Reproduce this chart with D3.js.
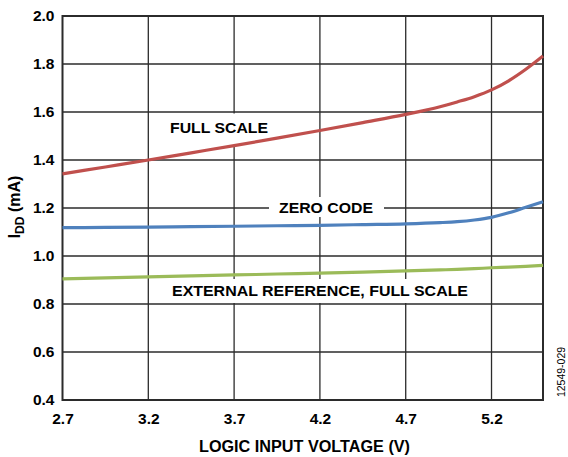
<!DOCTYPE html>
<html>
<head>
<meta charset="utf-8">
<script src="https://cdn.jsdelivr.net/npm/d3@7"></script>
<style>
  html, body { margin: 0; padding: 0; background: #fff; }
  svg { display: block; font-family: Arial, "Liberation Sans", sans-serif; }
</style>
</head>
<body>
<svg id="chart" width="568" height="457"></svg>
<script>
const xTicks = [2.7, 3.2, 3.7, 4.2, 4.7, 5.2];
const yTicks = [0.4, 0.6, 0.8, 1.0, 1.2, 1.4, 1.6, 1.8, 2.0];
const voltage = [2.7, 2.95, 3.2, 3.45, 3.7, 3.95, 4.2, 4.45, 4.7, 4.9, 5.0, 5.1, 5.2, 5.3, 5.4, 5.5];
const fullScale = [1.342, 1.371, 1.400, 1.430, 1.460, 1.491, 1.523, 1.556, 1.590, 1.622, 1.642, 1.664, 1.692, 1.730, 1.778, 1.833];
const zeroCode = [1.118, 1.119, 1.120, 1.122, 1.124, 1.126, 1.128, 1.131, 1.134, 1.139, 1.143, 1.150, 1.161, 1.180, 1.203, 1.226];
const extRef = [0.905, 0.909, 0.913, 0.917, 0.921, 0.925, 0.929, 0.933, 0.938, 0.942, 0.944, 0.947, 0.951, 0.954, 0.957, 0.961];
const seriesNames = ["FULL SCALE", "ZERO CODE", "EXTERNAL REFERENCE, FULL SCALE"];
const seriesColors = ["#c0504d", "#4f81bd", "#9bbb59"];

const svg = d3.select("#chart");
const L = 62.5, R = 543, T = 16, B = 400;
const x = d3.scaleLinear().domain([2.7, 5.5]).range([L, R]);
const y = d3.scaleLinear().domain([0.4, 2.0]).range([B, T]);
const gridColor = "#2b2b2b";
const FONT = "Arial, 'Liberation Sans', sans-serif";

// grid
svg.append("g").selectAll("line").data(xTicks.slice(1)).join("line")
  .attr("x1", d => x(d)).attr("x2", d => x(d)).attr("y1", T).attr("y2", B)
  .attr("stroke", gridColor).attr("stroke-width", 1.3);
svg.append("g").selectAll("line").data(yTicks.slice(1, -1)).join("line")
  .attr("x1", L).attr("x2", R).attr("y1", d => y(d)).attr("y2", d => y(d))
  .attr("stroke", gridColor).attr("stroke-width", 1.3);

// label boxes (mask grid)
const boxes = [
  {x0: 160, x1: 278, y0: 113.5, y1: 145},
  {x0: 269, x1: 384, y0: 197, y1: 217},
  {x0: 165, x1: 476, y0: 279, y1: 303}
];
svg.append("g").selectAll("rect").data(boxes).join("rect")
  .attr("x", d => d.x0).attr("y", d => d.y0)
  .attr("width", d => d.x1 - d.x0).attr("height", d => d.y1 - d.y0)
  .attr("fill", "#fff");

// frame
svg.append("rect").attr("x", L).attr("y", T).attr("width", R - L).attr("height", B - T)
  .attr("fill", "none").attr("stroke", gridColor).attr("stroke-width", 2);

// lines
const line = d3.line().x(d => x(d[0])).y(d => y(d[1])).curve(d3.curveMonotoneX);
const allSeries = [fullScale, zeroCode, extRef];
allSeries.forEach((s, i) => {
  svg.append("path")
    .datum(voltage.map((v, j) => [v, s[j]]))
    .attr("d", line)
    .attr("fill", "none")
    .attr("stroke", seriesColors[i])
    .attr("stroke-width", 3.2)
    .attr("stroke-linecap", "butt");
});

// series labels
const labelPos = [
  {x: 170, y: 133, anchor: "start", w: 98},
  {x: 279, y: 213, anchor: "start", w: 94},
  {x: 172, y: 295.5, anchor: "start", w: 296}
];
svg.append("g").selectAll("text").data(seriesNames).join("text")
  .attr("x", (d, i) => labelPos[i].x).attr("y", (d, i) => labelPos[i].y)
  .attr("text-anchor", (d, i) => labelPos[i].anchor)
  .attr("textLength", (d, i) => labelPos[i].w).attr("lengthAdjust", "spacingAndGlyphs")
  .attr("font-size", 15).attr("font-weight", "bold").attr("fill", "#000")
  .text(d => d);

// axes tick labels
const xAxis = d3.axisBottom(x).tickValues(xTicks).tickSize(0).tickPadding(13).tickFormat(d3.format(".1f"));
const gx = svg.append("g").attr("transform", `translate(0,${B})`).call(xAxis);
gx.select(".domain").remove();
gx.selectAll("text").attr("font-size", 15.5).attr("font-weight", "bold").attr("fill", "#000")
  .attr("font-family", FONT);

const yAxis = d3.axisLeft(y).tickValues(yTicks).tickSize(0).tickPadding(8).tickFormat(d3.format(".1f"));
const gy = svg.append("g").attr("transform", `translate(${L},0)`).call(yAxis);
gy.select(".domain").remove();
gy.selectAll("text").attr("font-size", 15.5).attr("font-weight", "bold").attr("fill", "#000")
  .attr("font-family", FONT);

// axis titles
svg.append("text").attr("x", 304.5).attr("y", 451.5).attr("text-anchor", "middle")
  .attr("font-size", 16).attr("font-weight", "bold")
  .attr("textLength", 211).attr("lengthAdjust", "spacingAndGlyphs")
  .text("LOGIC INPUT VOLTAGE (V)");

const yt = svg.append("text").attr("transform", "translate(20,207) rotate(-90)")
  .attr("text-anchor", "middle").attr("font-size", 16).attr("font-weight", "bold");
yt.append("tspan").text("I");
yt.append("tspan").attr("font-size", 12).attr("dy", 4).text("DD");
yt.append("tspan").attr("dy", -4).text(" (mA)");

svg.append("text").attr("transform", "translate(565,372) rotate(-90)")
  .attr("text-anchor", "middle").attr("font-size", 10.5).attr("fill", "#000").text("12549-029");
</script>
</body>
</html>
